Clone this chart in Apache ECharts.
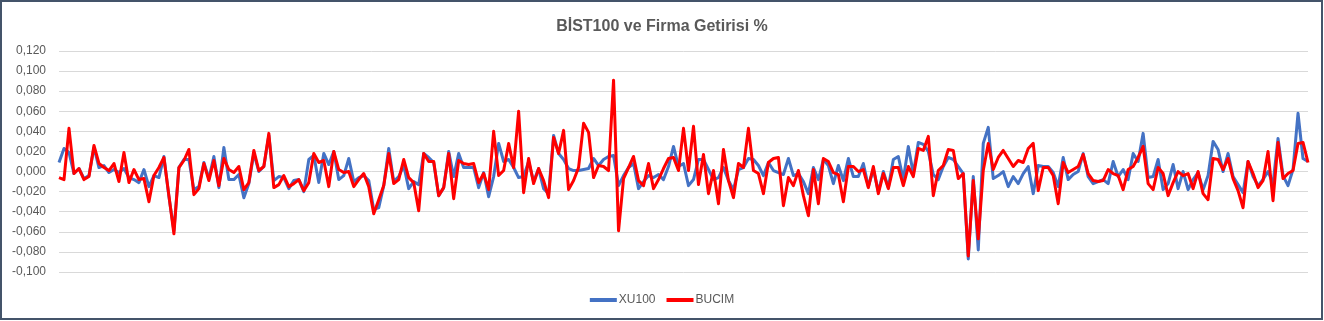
<!DOCTYPE html>
<html>
<head>
<meta charset="utf-8">
<script src="https://cdn.jsdelivr.net/npm/echarts/dist/echarts.min.js"></script>
<style>
html,body{margin:0;padding:0;background:#fff;}
#chart{width:1324px;height:321px;}
</style>
</head>
<body>
<div id="chart"></div>
<script>
const titleText = 'BİST100 ve Firma Getirisi %';
const seriesNames = ['XU100', 'BUCIM'];
const yTicks = { min: -0.1, max: 0.12, step: 0.02 };

const xu100 = [
0.009,0.023,0.019,-0.002,0.003,-0.007,-0.004,0.024,0.004,0.006,
-0.001,0.002,-0.001,0.003,-0.006,-0.008,-0.011,0.002,-0.015,-0.004,
-0.006,0.015,-0.025,-0.059,0.004,0.012,0.012,-0.018,-0.015,0.009,
-0.007,0.015,-0.016,0.024,-0.008,-0.008,-0.003,-0.026,-0.012,0.018,
0.000,0.005,0.036,-0.009,-0.005,-0.006,-0.017,-0.009,-0.008,-0.020,
0.012,0.016,-0.011,0.018,0.007,0.020,-0.008,-0.004,0.013,-0.010,
-0.006,-0.004,-0.009,-0.038,-0.036,-0.014,0.023,-0.010,-0.005,0.006,
-0.017,-0.010,-0.013,0.018,0.014,0.009,-0.024,-0.016,0.020,-0.005,
0.018,0.004,0.004,0.004,-0.016,-0.001,-0.025,-0.005,0.028,0.010,
0.012,0.004,-0.006,-0.005,0.010,-0.010,0.003,-0.017,-0.022,0.036,
0.018,0.012,0.003,0.001,0.001,0.002,0.003,0.013,0.006,0.012,
0.015,0.016,-0.014,-0.004,0.004,0.008,-0.017,-0.010,-0.004,-0.006,
-0.003,-0.008,0.005,0.025,0.005,0.008,-0.014,-0.008,0.012,0.012,
0.002,-0.008,-0.006,0.004,-0.009,-0.018,0.002,0.004,0.013,0.012,
0.006,-0.004,0.009,0.001,-0.001,-0.003,0.013,-0.004,-0.002,-0.010,
-0.022,0.004,-0.008,0.012,0.006,-0.012,0.006,-0.009,0.013,-0.005,
-0.005,0.008,-0.015,0.002,-0.020,0.000,-0.016,0.012,0.015,-0.008,
0.025,-0.002,0.029,0.027,0.020,-0.003,-0.008,0.005,0.014,0.012,
0.005,-0.002,-0.087,-0.005,-0.078,0.028,0.044,-0.007,-0.004,0.000,
-0.015,-0.005,-0.012,-0.002,0.005,-0.022,0.006,0.005,0.005,-0.001,
-0.015,0.014,-0.008,-0.003,0.000,0.018,-0.005,-0.012,-0.010,-0.008,
-0.012,0.010,-0.005,0.002,-0.008,0.018,0.010,0.038,-0.006,-0.005,
0.012,-0.018,-0.012,0.007,-0.017,0.000,-0.018,-0.008,-0.001,-0.018,
-0.004,0.030,0.022,0.000,0.018,-0.005,-0.013,-0.021,0.010,-0.005,
-0.014,-0.008,0.000,-0.012,0.033,-0.004,-0.014,0.002,0.058,0.013,
0.010
];

const bucim = [
-0.006,-0.008,0.043,-0.002,0.003,-0.008,-0.005,0.026,0.008,0.004,
0.001,0.008,-0.010,0.019,-0.011,0.002,-0.008,-0.007,-0.030,-0.004,
0.004,0.014,-0.024,-0.062,0.004,0.011,0.022,-0.023,-0.017,0.008,
-0.009,0.011,-0.014,0.013,0.002,-0.001,0.005,-0.018,-0.011,0.021,
0.001,0.005,0.038,-0.016,-0.013,-0.004,-0.015,-0.012,-0.008,-0.019,
-0.011,0.018,0.009,0.011,-0.015,0.020,0.002,-0.001,0.000,-0.015,
-0.008,-0.002,-0.015,-0.042,-0.028,-0.014,0.018,-0.012,-0.008,0.012,
-0.006,-0.011,-0.039,0.018,0.010,0.010,-0.024,-0.016,0.018,-0.027,
0.011,0.008,0.007,0.008,-0.011,-0.002,-0.018,0.040,-0.004,0.001,
0.028,0.004,0.060,-0.021,0.013,-0.012,0.003,-0.009,-0.026,0.034,
0.018,0.041,-0.018,-0.009,0.004,0.048,0.039,-0.006,0.006,0.005,
0.001,0.091,-0.059,-0.007,0.004,0.015,-0.009,-0.014,0.008,-0.017,
-0.008,0.003,0.013,0.014,0.001,0.043,0.001,0.045,-0.013,0.017,
-0.022,0.001,-0.032,0.022,-0.009,-0.026,0.008,0.004,0.043,0.001,
-0.002,-0.022,0.009,0.013,0.014,-0.034,-0.006,-0.014,0.001,-0.024,
-0.044,0.002,-0.032,0.013,0.010,-0.001,-0.003,-0.030,0.005,0.005,
0.000,0.002,-0.016,0.005,-0.022,-0.002,-0.017,0.004,0.004,-0.014,
0.005,-0.005,0.023,0.021,0.035,-0.024,0.001,0.006,0.022,0.021,
-0.007,-0.002,-0.084,-0.009,-0.067,0.001,0.028,0.002,0.014,0.021,
0.013,0.005,0.011,0.009,0.023,0.028,-0.019,0.004,0.004,-0.004,
-0.032,0.009,-0.001,0.002,0.005,0.017,-0.002,-0.009,-0.010,-0.009,
0.002,-0.002,-0.004,-0.018,0.002,0.005,0.014,0.025,-0.012,-0.018,
0.004,-0.002,-0.024,-0.011,0.000,-0.004,-0.002,-0.017,0.000,-0.022,
-0.028,0.013,0.012,0.002,0.013,-0.007,-0.019,-0.036,0.010,-0.002,
-0.016,-0.009,0.020,-0.029,0.029,-0.007,-0.002,0.001,0.028,0.029,
0.009
];

const categories = [];
for (let i = 1; i <= xu100.length; i++) categories.push(String(i));

const chart = echarts.init(document.getElementById('chart'), null, { renderer: 'canvas' });
const FONT = "'Liberation Sans', Arial, sans-serif";

chart.setOption({
  animation: false,
  backgroundColor: '#ffffff',
  title: {
    text: titleText,
    left: 'center',
    top: 14,
    textStyle: { fontFamily: FONT, fontSize: 16, fontWeight: 'bold', color: '#595959' }
  },
  legend: {
    bottom: 10,
    left: 'center',
    itemWidth: 27,
    itemHeight: 4,
    itemGap: 11,
    icon: 'rect',
    textStyle: { fontFamily: FONT, fontSize: 12, color: '#595959', padding: [0, 0, 0, -3] },
    data: seriesNames
  },
  grid: { left: 59, right: 16, top: 51, bottom: 49, containLabel: false },
  xAxis: {
    type: 'category',
    data: categories,
    boundaryGap: false,
    axisLine: { show: false },
    axisTick: { show: false },
    axisLabel: { show: false },
    splitLine: { show: false }
  },
  yAxis: {
    type: 'value',
    min: yTicks.min,
    max: yTicks.max,
    interval: yTicks.step,
    axisLine: { show: false },
    axisTick: { show: false },
    axisLabel: {
      margin: 13,
      fontFamily: FONT,
      fontSize: 12,
      color: '#595959',
      formatter: v => v.toFixed(3).replace('.', ',')
    },
    splitLine: { lineStyle: { color: '#d9d9d9', width: 1 } }
  },
  series: [
    {
      name: seriesNames[0], type: 'line', data: xu100,
      showSymbol: false, symbol: 'none',
      itemStyle: { color: '#4472c4' },
      lineStyle: { color: '#4472c4', width: 3, join: 'round' },
      z: 2
    },
    {
      name: seriesNames[1], type: 'line', data: bucim,
      showSymbol: false, symbol: 'none',
      itemStyle: { color: '#ff0000' },
      lineStyle: { color: '#ff0000', width: 3, join: 'round' },
      z: 3
    }
  ],
  graphic: [{
    type: 'rect', silent: true, z: 100,
    shape: { x: 1, y: 1, width: 1321, height: 318 },
    style: { fill: 'none', stroke: '#44546a', lineWidth: 2 }
  }]
});
</script>
</body>
</html>
